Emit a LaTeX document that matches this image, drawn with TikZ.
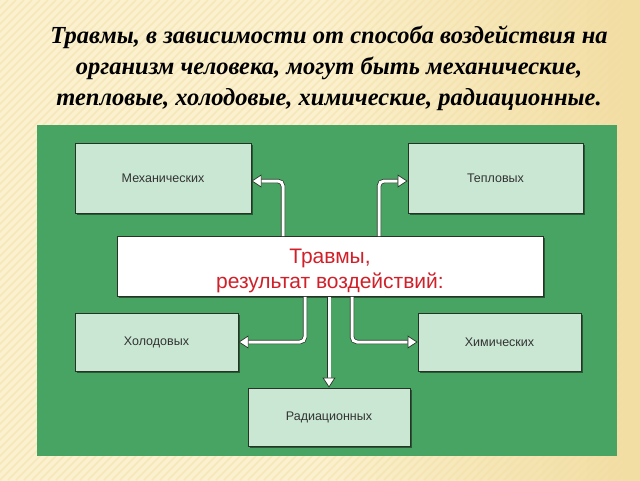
\documentclass[tikz,border=0pt]{standalone}
\usepackage{fontspec}
\setmainfont{Liberation Serif}
\newfontfamily\boxfont{Liberation Sans}
\usetikzlibrary{arrows.meta,shadows,calc}
\definecolor{bgcream}{HTML}{FBF1CE}
\definecolor{bggold}{HTML}{F2DDA2}
\definecolor{panelgreen}{HTML}{48A462}
\definecolor{boxmint}{HTML}{C9E7D3}
\definecolor{boxline}{HTML}{263326}
\definecolor{labelgray}{HTML}{333333}
\definecolor{centred}{HTML}{D0202A}
\tikzset{
  catbox/.style={draw=boxline, line width=0.9pt, fill=boxmint, inner sep=0pt,
    font=\boxfont\fontsize{12.5}{14}\selectfont, text=labelgray,
    drop shadow={shadow xshift=1.6pt, shadow yshift=-1.6pt, opacity=0.45, fill=black}},
  centbox/.style={draw=boxline, line width=0.9pt, fill=white, inner sep=0pt,
    font=\boxfont\fontsize{21}{25}\selectfont, text=centred,
    drop shadow={shadow xshift=1.6pt, shadow yshift=-1.6pt, opacity=0.45, fill=black}},
  underline/.style={draw=boxline, line width=4.4pt, rounded corners=5pt, shorten >=9pt},
  whiteline/.style={draw=white, line width=3pt, rounded corners=5pt,
    -{Triangle[width=13pt,length=10pt,line width=0.7pt,color=boxline,fill=white]}},
  titletext/.style={font=\bfseries\itshape\fontsize{24.5}{31}\selectfont, align=center, text=black}
}
\begin{document}
\begin{tikzpicture}[x=1pt,y=-1pt]
\useasboundingbox (0,0) rectangle (640,480);
% background
\shade[left color=bgcream, right color=bggold, middle color=bgcream] (0,0) rectangle (640,480);
\begin{scope}
\clip (0,0) rectangle (640,480);
\foreach \i in {-480,-472,...,640} {
  \draw[bggold, opacity=0.45, line width=1.6pt] (\i,480) -- (\i+480,0);
}
\end{scope}
% title
\node[titletext] (title) at (329,68) {Травмы, в зависимости от способа воздействия на\\организм человека, могут быть механические,\\тепловые, холодовые, химические, радиационные.};
% green panel
\fill[panelgreen] (37,125) rectangle (617,456);
% boxes
\node[catbox, minimum width=176pt, minimum height=70pt] (mech) at (163,178) {Механических};
\node[catbox, minimum width=175pt, minimum height=70pt] (tepl) at (495.5,178) {Тепловых};
\node[centbox, minimum width=426pt, minimum height=60pt] (cen) at (330,266.5) {\raisebox{-4pt}[\height][\depth]{\begin{tabular}{@{}c@{}}Травмы,\\результат воздействий:\end{tabular}}};
\node[catbox, minimum width=163pt, minimum height=58pt] (hol) at (156.5,342) {Холодовых};
\node[catbox, minimum width=163pt, minimum height=58pt] (him) at (499.5,342) {Химических};
\node[catbox, minimum width=162pt, minimum height=58pt] (rad) at (329,417) {Радиационных};
% anchor columns
\coordinate (cm) at (283,0);
\coordinate (ct) at (379,0);
\coordinate (ch) at (305,0);
\coordinate (cr) at (329,0);
\coordinate (cx) at (352,0);
\coordinate (mt) at ($(mech.east)+(0,3)$);
\coordinate (tt) at ($(tepl.west)+(0,3)$);
% connectors
\foreach \s in {underline, whiteline} {
  \draw[\s] (cm |- cen.north) |- (mt);
  \draw[\s] (ct |- cen.north) |- (tt);
  \draw[\s] (ch |- cen.south) |- (hol.east);
  \draw[\s] (cx |- cen.south) |- (him.west);
  \draw[\s] (cr |- cen.south) -- (cr |- rad.north);
}
\end{tikzpicture}
\end{document}
